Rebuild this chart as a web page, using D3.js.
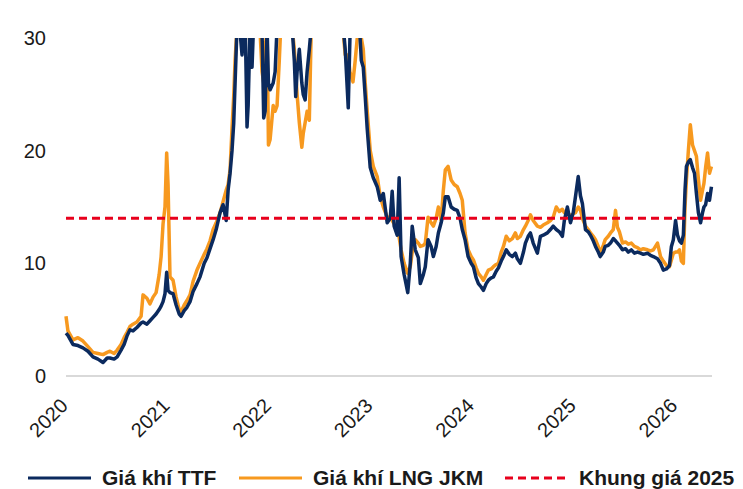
<!DOCTYPE html>
<html>
<head>
<meta charset="utf-8">
<script src="https://cdn.jsdelivr.net/npm/d3@7"></script>
<style>
  html, body { margin: 0; padding: 0; background: #fff; }
  svg { display: block; font-family: "Liberation Sans", Arial, sans-serif; }
</style>
</head>
<body>
<svg id="chart" width="743" height="489"></svg>
<script>
// ---- data ----
const dates = [
"2020-01-01","2020-01-08","2020-01-26","2020-02-13","2020-03-02","2020-03-20","2020-04-07","2020-04-25","2020-05-13","2020-05-28",
"2020-06-07","2020-06-22","2020-07-03","2020-07-17","2020-07-28","2020-08-08","2020-08-18","2020-08-29","2020-09-12","2020-09-27",
"2020-10-04","2020-10-18","2020-10-29","2020-11-09","2020-11-20","2020-12-01","2020-12-08","2020-12-15","2020-12-22","2020-12-28",
"2021-01-02","2021-01-09","2021-01-20","2021-01-31","2021-02-11","2021-02-18","2021-03-01","2021-03-11","2021-03-22","2021-04-02",
"2021-04-16","2021-04-27","2021-05-12","2021-05-22","2021-06-02","2021-06-13","2021-06-24","2021-07-08","2021-07-19","2021-07-30",
"2021-08-06","2021-08-13","2021-08-20","2021-08-26","2021-08-31","2021-09-07","2021-09-18","2021-09-25","2021-10-06","2021-10-13",
"2021-10-17","2021-10-24","2021-10-31","2021-11-08","2021-11-15","2021-11-26","2021-12-06","2021-12-12","2021-12-17","2021-12-24",
"2021-12-29","2022-01-04","2022-01-15","2022-01-22","2022-01-29","2022-02-06","2022-02-13","2022-02-27","2022-03-17","2022-03-24",
"2022-04-01","2022-04-06","2022-04-11","2022-04-19","2022-04-28","2022-05-03","2022-05-10","2022-05-17","2022-05-25","2022-06-01",
"2022-06-15","2022-07-03","2022-07-21","2022-08-08","2022-08-26","2022-09-13","2022-09-24","2022-10-01","2022-10-12","2022-10-18",
"2022-10-29","2022-11-06","2022-11-17","2022-11-28","2022-12-05","2022-12-12","2022-12-19","2022-12-30","2023-01-10","2023-01-24",
"2023-02-04","2023-02-15","2023-03-01","2023-03-12","2023-03-19","2023-03-26","2023-04-06","2023-04-13","2023-04-20","2023-05-01",
"2023-05-14","2023-05-23","2023-05-30","2023-06-10","2023-06-21","2023-06-28","2023-07-09","2023-07-16","2023-07-26","2023-08-06",
"2023-08-14","2023-08-24","2023-09-01","2023-09-11","2023-09-19","2023-09-26","2023-10-06","2023-10-17","2023-10-28","2023-11-08",
"2023-11-18","2023-11-26","2023-12-06","2023-12-17","2023-12-28","2024-01-05","2024-01-15","2024-01-23","2024-02-02","2024-02-10",
"2024-02-20","2024-02-28","2024-03-09","2024-03-17","2024-03-27","2024-04-04","2024-04-14","2024-04-22","2024-05-02","2024-05-13",
"2024-05-24","2024-06-04","2024-06-11","2024-06-22","2024-07-03","2024-07-10","2024-07-20","2024-07-28","2024-08-07","2024-08-22",
"2024-09-02","2024-09-12","2024-09-27","2024-10-08","2024-10-18","2024-10-29","2024-11-09","2024-11-20","2024-11-27","2024-12-08",
"2024-12-19","2024-12-29","2025-01-06","2025-01-16","2025-01-24","2025-01-31","2025-02-11","2025-02-21","2025-03-01","2025-03-11",
"2025-03-19","2025-03-29","2025-04-05","2025-04-16","2025-04-23","2025-05-04","2025-05-12","2025-05-22","2025-05-30","2025-06-06",
"2025-06-13","2025-06-24","2025-07-05","2025-07-15","2025-07-26","2025-08-06","2025-08-17","2025-08-28","2025-09-07","2025-09-22",
"2025-10-03","2025-10-13","2025-10-28","2025-11-08","2025-11-18","2025-11-29","2025-12-10","2025-12-17","2025-12-24","2026-01-01",
"2026-01-08","2026-01-15","2026-01-22","2026-01-29","2026-02-04","2026-02-09","2026-02-16","2026-02-23","2026-03-03","2026-03-10",
"2026-03-17","2026-03-24","2026-04-01","2026-04-08","2026-04-13","2026-04-19","2026-04-26","2026-05-03","2026-05-10"
];

const ttf = [
3.8,3.6,2.8,2.7,2.5,2.2,1.7,1.5,1.2,1.6,
1.6,1.5,1.7,2.3,2.8,3.6,4.1,4.0,4.3,4.7,
4.8,4.6,4.9,5.2,5.5,5.9,6.2,6.6,7.3,9.2,
7.6,7.4,7.3,6.3,5.5,5.3,5.8,6.1,6.6,7.5,
8.2,8.8,10.0,10.5,11.3,12.1,13.0,14.5,15.2,13.8,
16.5,18.0,20.0,22.4,26.0,31,30.5,28.5,32,22.1,
24,31,27.4,33,32,31,30.5,22.9,23.5,31,
26,25.4,26,27,31,32,34,36,38,31,
28,24.8,27,29,26,25,24.5,27,29,31,
35,40,45,55,60,45,31,29,23.8,30,
31,31,33,28,27.4,24.8,22,18.5,17.6,16.8,
15.6,16.2,13.6,14.0,16.4,13.3,12.5,17.6,10.6,9.0,
7.4,10.0,13.3,11.2,10.5,8.2,9.0,9.7,12.1,11.5,
10.6,11.5,12.7,13.6,14.5,15.9,15.9,15.0,14.8,14.7,
14.0,13.0,12.1,10.6,10.0,9.7,8.7,8.2,7.9,7.6,
8.2,8.5,8.7,8.8,9.3,9.6,10.2,10.6,11.2,10.8,
10.6,10.9,10.4,10.0,11.0,11.8,12.4,12.7,11.8,10.9,
12.4,12.5,12.7,13.0,13.3,13.0,12.8,12.4,13.8,15.0,
13.6,14.5,15.9,17.7,16.0,15.3,13.0,12.8,12.5,12.0,
11.5,11.0,10.6,11.0,11.5,11.6,11.8,12.2,12.0,11.8,
11.6,11.2,11.3,11.0,11.2,10.9,11.0,10.9,10.8,10.9,
10.7,10.6,10.4,10.0,9.4,9.5,9.8,11.5,12.1,13.8,
12.5,12.0,11.8,12.5,16.5,18.6,19.0,19.2,18.5,18.0,
16.2,14.5,13.6,14.5,15.0,15.2,16.2,15.6,16.8
];

const jkm = [
5.3,4.0,3.2,3.4,3.1,2.6,2.1,2.0,1.9,2.1,
2.2,2.0,2.3,2.8,3.4,3.9,4.4,4.6,4.8,5.3,
7.2,6.9,6.4,7.0,7.4,9.0,10.6,13.5,15.0,19.8,
17.0,8.8,8.5,7.0,5.9,5.7,6.3,6.7,7.2,8.4,
9.4,10.0,10.8,11.3,12.0,13.0,13.6,14.5,15.5,16.5,
17.0,18.3,22.0,24.8,28.0,31,32,29,31,32,
31,29.5,32,31,33,32,27,26,29,31,
20.5,21,24,23.5,24,28,32,35,36,31,
29,27,25,22.5,20.3,21.5,22.5,23.5,22.7,31,
36,38,40,50,55,42,30.5,28.5,28.5,27,
26.1,28,31,30,29,26,23.6,20.0,18.6,17.7,
15.9,15.0,14.1,14.1,13.8,13.5,12.7,12.3,11.2,10.0,
9.1,9.7,11.0,12.1,11.8,11.5,11.6,11.8,14.1,13.6,
13.3,14.0,15.0,13.8,16.5,18.3,18.6,17.4,17.0,16.8,
16.2,15.6,12.7,11.2,10.6,10.3,9.6,9.1,8.8,8.5,
9.0,9.4,9.5,9.7,9.9,10.0,11.0,11.5,12.4,12.0,
12.2,12.7,12.2,12.4,13.0,13.3,13.8,14.3,13.8,13.3,
13.2,13.4,13.6,13.8,14.1,15.0,14.6,14.8,14.5,14.5,
14.2,14.4,14.5,15.0,14.7,14.0,13.3,13.0,12.7,12.4,
12.1,11.5,10.9,11.6,12.1,12.4,12.7,13.0,14.7,13.2,
12.8,11.8,11.9,11.7,11.8,11.5,11.4,11.2,11.3,11.2,
11.1,11.2,11.8,10.6,10.2,9.8,9.7,10.3,10.9,11.0,
11.0,11.2,10.2,10.0,15.0,17.4,20.0,22.3,20.5,20.0,
19.5,17.5,15.6,16.5,17.1,18.5,19.8,18.0,18.6
];

const priceBand = 14;               // "Khung giá 2025"
const yTicks = [0, 10, 20, 30];
const xDomain = ["2020-01-01", "2026-05-12"];

const seriesNames = ["Giá khí TTF", "Giá khí LNG JKM", "Khung giá 2025"];
const colors = { ttf: "#0b2a5e", jkm: "#f7991f", band: "#e8001c" };

// ---- scales ----
const parse = d3.timeParse("%Y-%m-%d");
const svg = d3.select("#chart");
const x = d3.scaleTime().domain(xDomain.map(parse)).range([66, 712]);
const y = d3.scaleLinear().domain([0, 30]).range([376, 38]);

const ttfData = dates.map((d, i) => ({ date: parse(d), v: ttf[i] }));
const jkmData = dates.map((d, i) => ({ date: parse(d), v: jkm[i] }));

// clip at top of axis (values above 30 run off the chart)
svg.append("defs").append("clipPath").attr("id", "plotclip")
  .append("rect")
  .attr("x", x.range()[0] - 5).attr("y", y(30))
  .attr("width", x.range()[1] - x.range()[0] + 10)
  .attr("height", y(0) - y(30) + 10);

// y labels
svg.append("g").selectAll("text").data(yTicks).join("text")
  .attr("x", 46).attr("y", d => y(d)).attr("dy", "0.35em")
  .attr("text-anchor", "end")
  .attr("font-size", 20).attr("fill", "#1a1a1a")
  .text(d => d);

// zero baseline
svg.append("line")
  .attr("x1", x.range()[0]).attr("x2", x.range()[1])
  .attr("y1", y(0)).attr("y2", y(0))
  .attr("stroke", "#d9d9d9").attr("stroke-width", 2);

// x tick labels (rotated)
const xt = x.ticks(d3.timeYear.every(1));
svg.append("g").selectAll("text").data(xt).join("text")
  .attr("transform", d => `translate(${x(d) + 3},${y(0) + 31}) rotate(-45)`)
  .attr("text-anchor", "end")
  .attr("font-size", 20).attr("fill", "#1a1a1a")
  .text(d => d3.timeFormat("%Y")(d));

const line = d3.line().x(d => x(d.date)).y(d => y(d.v));

const plot = svg.append("g").attr("clip-path", "url(#plotclip)");
plot.append("path").datum(jkmData)
  .attr("d", line).attr("fill", "none")
  .attr("stroke", colors.jkm).attr("stroke-width", 3.5)
  .attr("stroke-linejoin", "round");
plot.append("path").datum(ttfData)
  .attr("d", line).attr("fill", "none")
  .attr("stroke", colors.ttf).attr("stroke-width", 3.5)
  .attr("stroke-linejoin", "round");

// price band dashed line
svg.append("line")
  .attr("x1", x.range()[0]).attr("x2", x.range()[1])
  .attr("y1", y(priceBand)).attr("y2", y(priceBand))
  .attr("stroke", colors.band).attr("stroke-width", 3)
  .attr("stroke-dasharray", "8,5");

// legend
const legendItems = [
  { name: seriesNames[0], color: colors.ttf, dash: null, x0: 28 },
  { name: seriesNames[1], color: colors.jkm, dash: null, x0: 239 },
  { name: seriesNames[2], color: colors.band, dash: "8,5", x0: 505 }
];
const lg = svg.append("g");
const ly = 478;
legendItems.forEach(it => {
  lg.append("line")
    .attr("x1", it.x0).attr("x2", it.x0 + 63)
    .attr("y1", ly).attr("y2", ly)
    .attr("stroke", it.color).attr("stroke-width", 3)
    .attr("stroke-dasharray", it.dash);
  lg.append("text")
    .attr("x", it.x0 + 74).attr("y", ly).attr("dy", "0.35em")
    .attr("font-size", 21).attr("font-weight", "bold").attr("fill", "#1a1a1a")
    .text(it.name);
});
</script>
</body>
</html>
